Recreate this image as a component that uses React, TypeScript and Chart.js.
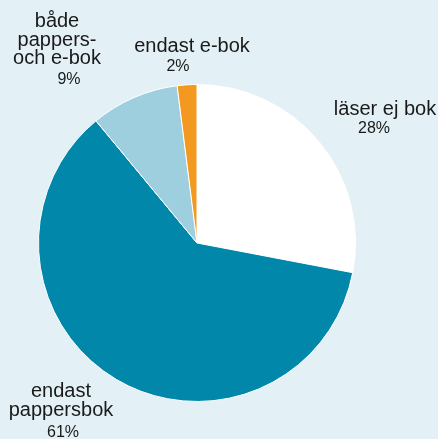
import React, { useEffect, useRef } from "react";
import { Chart, registerables } from "chart.js";

Chart.register(...registerables);

const categories = ["läser ej bok", "endast pappersbok", "både pappers- och e-bok", "endast e-bok"];
const labelLines = [["läser ej bok"], ["endast", "pappersbok"], ["både", "pappers-", "och e-bok"], ["endast e-bok"]];
const values = [28, 61, 9, 2];
const percentLabels = ["28%", "61%", "9%", "2%"];
const colors = ["#ffffff", "#0087aa", "#9dcfde", "#f4991f"];
// text anchors: [center x of name, first baseline y, center x of percent, percent baseline y]
const textAnchors = [
  [385, 115, 374, 133],
  [61, 397, 63, 437],
  [57, 27, 69, 84],
  [192, 52, 178, 71],
];

const labelPlugin = {
  id: "outerLabels",
  afterDraw(chart: any) {
    const ctx = chart.ctx;
    ctx.save();
    ctx.fillStyle = "#1a1a1a";
    ctx.textAlign = "center";
    ctx.textBaseline = "alphabetic";
    labelLines.forEach((lines, i) => {
      const [nx, ny, px, py] = textAnchors[i];
      ctx.font = "20px 'Liberation Sans', Arial, sans-serif";
      lines.forEach((ln, j) => ctx.fillText(ln, nx, ny + j * 18.5));
      ctx.font = "16px 'Liberation Sans', Arial, sans-serif";
      ctx.fillText(percentLabels[i], px, py);
    });
    ctx.restore();
  },
};

export default function App() {
  const ref = useRef<HTMLCanvasElement>(null);
  useEffect(() => {
    const chart = new Chart(ref.current!, {
      type: "pie",
      data: {
        labels: categories,
        datasets: [
          {
            data: values,
            backgroundColor: colors,
            borderColor: "#ffffff",
            borderWidth: 1,
          },
        ],
      },
      options: {
        responsive: false,
        animation: false,
        layout: { padding: { left: 38, right: 82, top: 84, bottom: 37 } },
        plugins: { legend: { display: false }, tooltip: { enabled: false } },
      },
      plugins: [labelPlugin],
    });
    return () => chart.destroy();
  }, []);
  return (
    <div style={{ position: "fixed", left: 0, top: 0, width: 438, height: 439, background: "#e3f0f5" }}>
      <canvas ref={ref} width={438} height={439} style={{ display: "block" }} />
    </div>
  );
}
